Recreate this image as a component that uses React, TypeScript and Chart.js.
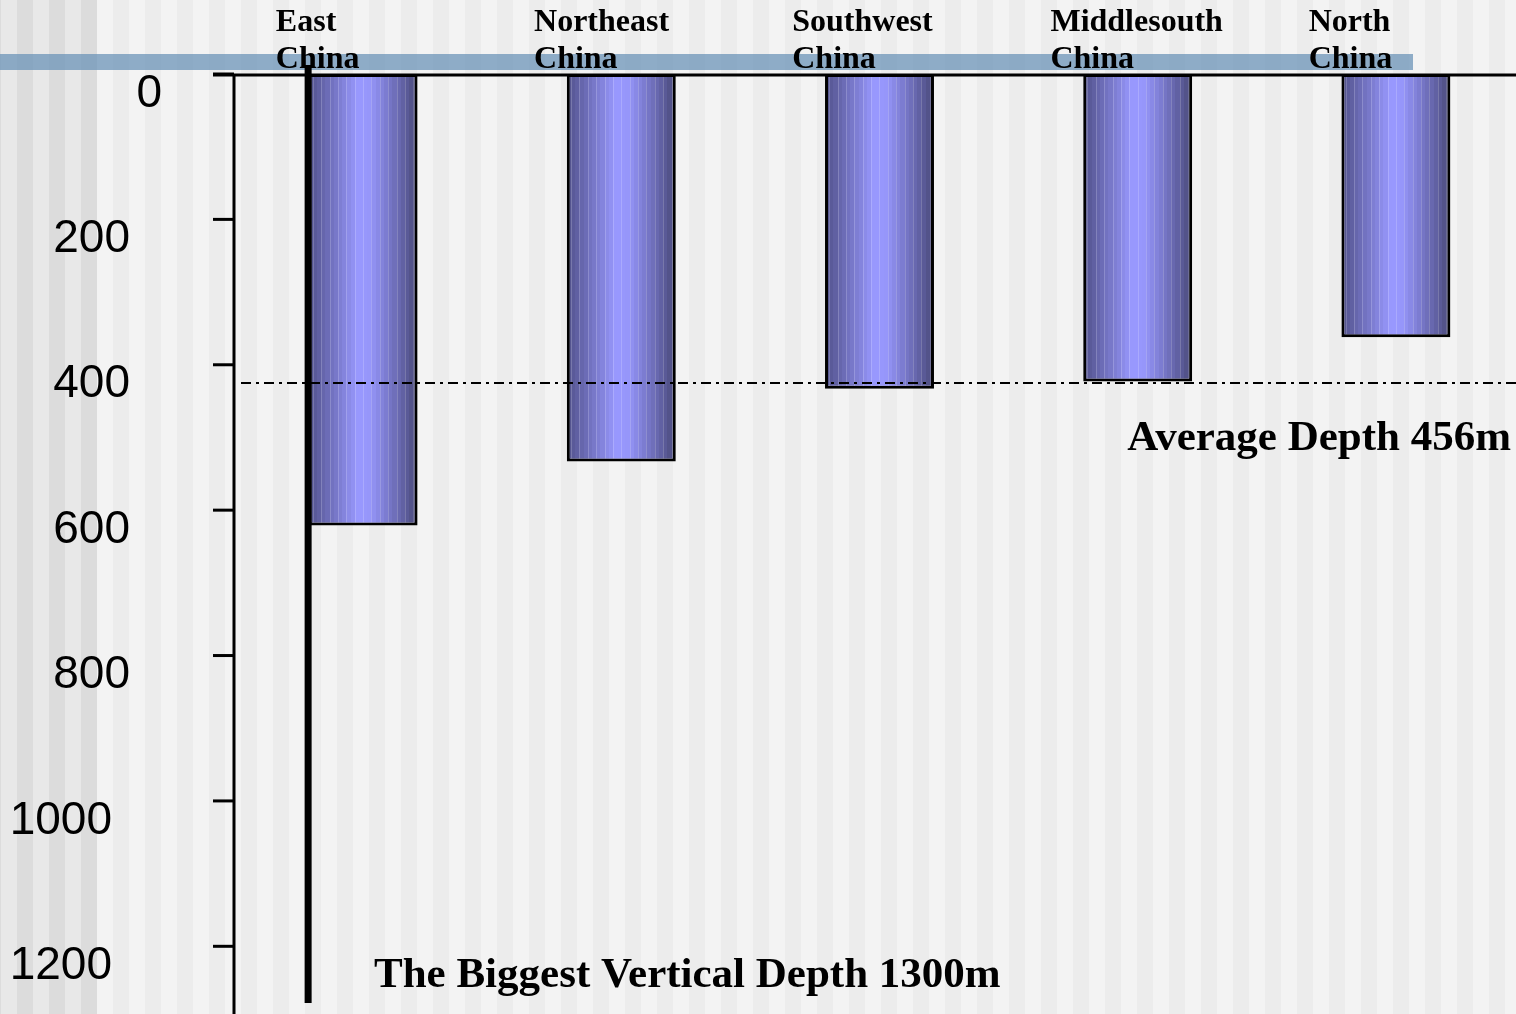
import React, { useEffect, useRef } from "react";
import { Chart, registerables } from "chart.js";

Chart.register(...registerables);

const categories = ["East China", "Northeast China", "Southwest China", "Middlesouth China", "North China"];
const depths = [621, 533, 433, 423, 362];
const averageLineDepth = 425;
const yTicks = [0, 200, 400, 600, 800, 1000, 1200];
const yMax = 1300;
const biggestLineDepth = 1278;
const averageLabel = "Average Depth 456m";
const biggestLabel = "The Biggest Vertical Depth 1300m";

const CANVAS_W = 1530;
const CANVAS_H = 1019;
const BAR_PCT = 0.422;

const profile: [number, number[]][] = [
  [0, [82, 82, 138]],
  [0.15, [104, 104, 176]],
  [0.3, [128, 128, 214]],
  [0.45, [153, 153, 255]],
  [0.56, [150, 150, 250]],
  [0.7, [126, 126, 212]],
  [0.85, [100, 100, 168]],
  [1, [72, 72, 120]],
];

function colorAt(t: number): number[] {
  for (let i = 0; i < profile.length - 1; i++) {
    const [t0, c0] = profile[i];
    const [t1, c1] = profile[i + 1];
    if (t >= t0 && t <= t1) {
      const f = (t - t0) / (t1 - t0);
      return c0.map((v, k) => Math.round(v + (c1[k] - v) * f));
    }
  }
  return profile[profile.length - 1][1];
}

function barFill(ctx: any) {
  const chart = ctx.chart;
  const xs = chart.scales && chart.scales.x;
  if (!xs || ctx.dataIndex == null || !isFinite(xs.width) || xs.width <= 0) return "#8888ee";
  const cx = xs.getPixelForValue(ctx.dataIndex);
  const w = (xs.width / categories.length) * BAR_PCT;
  const g = chart.ctx.createLinearGradient(cx - w / 2, 0, cx + w / 2, 0);
  const N = 26;
  for (let i = 0; i < N; i++) {
    const a = i / N;
    const b = (i + 1) / N;
    const c = colorAt((i + 0.5) / N);
    const col = `rgb(${c[0]},${c[1]},${c[2]})`;
    if (i % 2 === 1) {
      const l = c.map((v) => Math.round(v + (255 - v) * 0.18));
      const lc = `rgb(${l[0]},${l[1]},${l[2]})`;
      g.addColorStop(a, lc);
      g.addColorStop(Math.min(b, a + 1 / w), lc);
      g.addColorStop(Math.min(b, a + 1 / w), col);
    } else {
      g.addColorStop(a, col);
    }
    g.addColorStop(b - 0.0001, col);
  }
  return g;
}

const decorPlugin = {
  id: "decor",
  beforeDraw(chart: any) {
    const ctx = chart.ctx;
    ctx.save();
    // striped background
    for (let x = -15, i = -1; x < CANVAS_W; x += 16, i++) {
      const dark = Math.abs(i) % 2 === 1;
      if (x < 97) ctx.fillStyle = dark ? "#dcdcdc" : "#e8e8e8";
      else ctx.fillStyle = dark ? "#ececec" : "#f3f3f3";
      ctx.fillRect(x, 0, 16, CANVAS_H);
    }
    // blue band
    ctx.fillStyle = "rgba(108,148,184,0.75)";
    ctx.fillRect(0, 54, 1413, 16);
    ctx.restore();
  },
  afterDatasetsDraw(chart: any) {
    const ctx = chart.ctx;
    const xs = chart.scales.x;
    const ys = chart.scales.y;
    const area = chart.chartArea;
    ctx.save();

    // average dash-dot line
    const ay = ys.getPixelForValue(averageLineDepth);
    ctx.strokeStyle = "#000";
    ctx.lineWidth = 2;
    ctx.setLineDash([10, 5, 3, 5]);
    ctx.beginPath();
    ctx.moveTo(241, ay);
    ctx.lineTo(CANVAS_W, ay);
    ctx.stroke();
    ctx.setLineDash([]);

    // axes
    const y0 = ys.getPixelForValue(0);
    ctx.lineWidth = 3;
    ctx.beginPath();
    ctx.moveTo(213, y0 + 1);
    ctx.lineTo(CANVAS_W, y0 + 1);
    ctx.stroke();
    ctx.beginPath();
    ctx.moveTo(area.left, y0);
    ctx.lineTo(area.left, CANVAS_H);
    ctx.stroke();

    // y ticks and labels
    ctx.fillStyle = "#000";
    ctx.font = "46px 'Liberation Sans', Arial, sans-serif";
    ctx.textBaseline = "middle";
    ctx.textAlign = "right";
    yTicks.forEach((v) => {
      const py = ys.getPixelForValue(v);
      ctx.lineWidth = 3;
      ctx.beginPath();
      ctx.moveTo(213, py);
      ctx.lineTo(area.left, py);
      ctx.stroke();
      const s = String(v);
      const right = s.length === 1 ? 162 : s.length === 3 ? 130 : 112;
      ctx.fillText(s, right, py + 20);
    });

    // category labels
    ctx.font = "bold 32px 'Liberation Serif', 'Times New Roman', serif";
    ctx.textAlign = "left";
    ctx.textBaseline = "alphabetic";
    const catW = xs.width / categories.length;
    categories.forEach((c, i) => {
      const cx = xs.getPixelForValue(i);
      const left = cx - catW * 0.338;
      const parts = c.split(" ");
      ctx.fillText(parts[0], left, 31);
      ctx.fillText(parts.slice(1).join(" "), left, 68);
    });

    // thick vertical line at the first bar
    const meta = chart.getDatasetMeta(0);
    const el = meta.data[0];
    if (el) {
      const lx = el.x - el.width / 2 - 0.5;
      ctx.fillStyle = "#000";
      ctx.fillRect(lx - 3.5, y0 - 9, 7, ys.getPixelForValue(biggestLineDepth) - (y0 - 9));
    }

    // annotation texts
    ctx.fillStyle = "#000";
    ctx.font = "bold 43px 'Liberation Serif', 'Times New Roman', serif";
    ctx.textAlign = "right";
    ctx.fillText(averageLabel, 1511, 450);
    ctx.textAlign = "left";
    ctx.fillText(biggestLabel, 374, 987);

    ctx.restore();
  },
};

export default function App() {
  const ref = useRef<HTMLCanvasElement | null>(null);
  useEffect(() => {
    if (!ref.current) return;
    const chart = new Chart(ref.current, {
      type: "bar",
      data: {
        labels: categories,
        datasets: [
          {
            data: depths,
            backgroundColor: barFill as any,
            borderColor: "#000",
            borderWidth: 3,
            borderSkipped: false,
            barPercentage: BAR_PCT,
            categoryPercentage: 1,
          },
        ],
      },
      options: {
        animation: false,
        responsive: false,
        devicePixelRatio: 1,
        layout: { padding: { left: 234, top: 74, right: CANVAS_W - 1525, bottom: 0 } },
        plugins: { legend: { display: false }, tooltip: { enabled: false } },
        scales: {
          x: { type: "category", display: false, offset: true },
          y: { display: false, reverse: true, min: 0, max: yMax },
        },
      },
      plugins: [decorPlugin],
    });
    return () => chart.destroy();
  }, []);
  return (
    <div style={{ position: "absolute", left: 0, top: 0, width: 1516, height: 1014, overflow: "hidden" }}>
      <canvas ref={ref} width={CANVAS_W} height={CANVAS_H} style={{ width: CANVAS_W, height: CANVAS_H, display: "block" }} />
    </div>
  );
}
